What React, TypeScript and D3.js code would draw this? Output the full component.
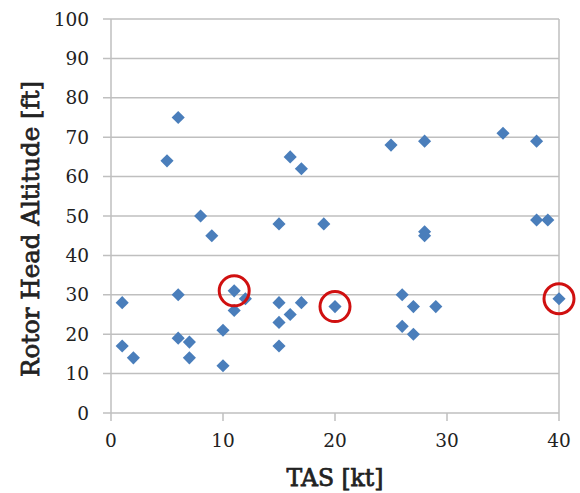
import React from 'react';
import * as d3 from 'd3';

// TAS [kt] and rotor head altitude [ft]
const tas = [1, 1, 2, 5, 6, 6, 6, 7, 7, 8, 9, 10, 10, 11, 11, 12, 15, 15, 15, 15,
    16, 16, 17, 17, 19, 20, 25, 26, 26, 27, 27, 28, 28, 28, 29, 35, 38, 38, 39, 40];
const altitude = [28, 17, 14, 64, 75, 30, 19, 18, 14, 50, 45, 21, 12, 31, 26, 29, 48, 28, 23, 17,
    65, 25, 62, 28, 48, 27, 68, 30, 22, 27, 20, 69, 46, 45, 27, 71, 69, 49, 49, 29];

// circled points (index into the arrays above)
const highlighted = [13, 25, 39];

const xTicks = [0, 10, 20, 30, 40];
const yTicks = [0, 10, 20, 30, 40, 50, 60, 70, 80, 90, 100];

const width = 580;
const height = 493;
const margin = { left: 111, right: 21, top: 19, bottom: 80 };

export default function App() {
    const innerW = width - margin.left - margin.right;
    const innerH = height - margin.top - margin.bottom;

    const x = d3.scaleLinear().domain([0, 40]).range([0, innerW]);
    const y = d3.scaleLinear().domain([0, 100]).range([innerH, 0]);

    const diamond = d3.symbol(d3.symbolSquare, 86)();
    const gridColor = '#bfbfbf';
    const serif = '"DejaVu Serif", serif';

    return (
        <svg width={width} height={height}
            style={{ position: 'absolute', left: 0, top: 0, background: '#fff' }}>
            <g transform={`translate(${margin.left},${margin.top})`}>
                {yTicks.map((t) => (
                    <g key={'y' + t}>
                        <line x1={-8} x2={innerW} y1={y(t)} y2={y(t)}
                            stroke={gridColor} strokeWidth={1.5} />
                        <text x={-22} y={y(t)} dy="0.36em" textAnchor="end"
                            fontFamily={serif} fontSize={18.5} fill="#222">{t}</text>
                    </g>
                ))}
                {xTicks.map((t) => (
                    <g key={'x' + t}>
                        <line x1={x(t)} x2={x(t)} y1={innerH} y2={innerH + 8}
                            stroke={gridColor} strokeWidth={1.5} />
                        <text x={x(t)} y={innerH + 34} textAnchor="middle"
                            fontFamily={serif} fontSize={18.5} fill="#222">{t}</text>
                    </g>
                ))}
                <line x1={0} x2={0} y1={0} y2={innerH} stroke={gridColor} strokeWidth={1.5} />
                <line x1={innerW} x2={innerW} y1={0} y2={innerH} stroke={gridColor} strokeWidth={1.5} />

                {tas.map((v, i) => (
                    <path key={i} d={diamond || ''} fill="#4a7ebb"
                        transform={`translate(${x(v)},${y(altitude[i])}) rotate(45)`} />
                ))}

                {highlighted.map((i) => (
                    <circle key={'c' + i} cx={x(tas[i])} cy={y(altitude[i])} r={15}
                        fill="none" stroke="#d01010" strokeWidth={3} />
                ))}

                <text x={innerW / 2} y={innerH + 73} textAnchor="middle"
                    fontFamily={serif} fontSize={23.5} fill="#222"
                    stroke="#222" strokeWidth={0.75}>TAS [kt]</text>
                <text transform={`translate(${-72},${210}) rotate(-90)`} textAnchor="middle"
                    fontFamily={serif} fontSize={24.5} fill="#222"
                    stroke="#222" strokeWidth={0.75}>Rotor Head Altitude [ft]</text>
            </g>
        </svg>
    );
}
